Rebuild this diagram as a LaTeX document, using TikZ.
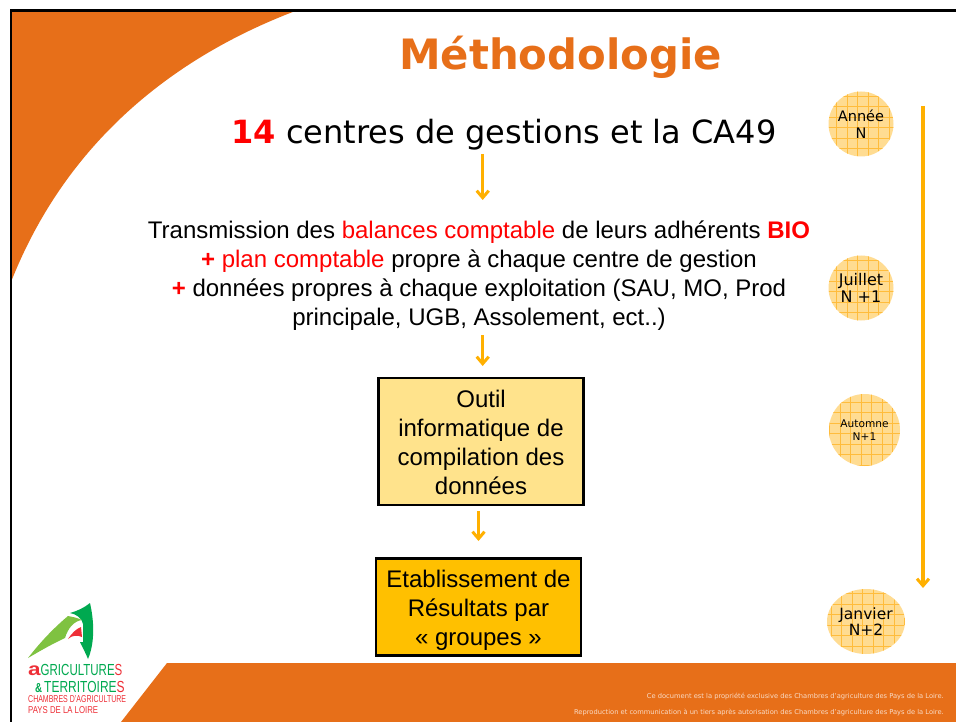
\documentclass[tikz,border=0pt]{standalone}
\usepackage{fontspec}
\setmainfont{Liberation Sans}
\newfontfamily\verd{DejaVu Sans}
\usetikzlibrary{arrows.meta,shapes.geometric}
\definecolor{orangeA}{HTML}{E76F19}
\definecolor{gold}{HTML}{FFB000}
\definecolor{disc}{HTML}{FFDC92}
\definecolor{gridc}{HTML}{FFBC3C}
\definecolor{boxA}{HTML}{FFE38C}
\definecolor{boxB}{HTML}{FFC000}
\definecolor{logoG}{HTML}{00A950}
\definecolor{logoL}{HTML}{7FC241}
\definecolor{logoR}{HTML}{EE2F37}
\tikzset{
  flow/.style={draw=gold,line width=3.4pt,-{Straight Barb[length=7pt,width=12pt,line width=3pt]}},
  stepbox/.style={draw=black,line width=2.8pt,align=center,font=\fontsize{24}{29}\selectfont,inner sep=0pt},
  body/.style={align=center,font=\fontsize{24}{29}\selectfont,inner sep=0pt},
  datedisc/.style 2 args={ellipse,fill=disc,minimum width=#1,minimum height=#2,inner sep=0pt,
    path picture={
      \foreach \k in {-5,...,5}{
        \draw[gridc,line width=0.8pt] ([xshift=\k*10.5pt-3.5pt]path picture bounding box.south) -- ([xshift=\k*10.5pt-3.5pt]path picture bounding box.north);
        \draw[gridc,line width=0.8pt] ([yshift=\k*10.5pt-3.5pt]path picture bounding box.west) -- ([yshift=\k*10.5pt-3.5pt]path picture bounding box.east);
      }}},
  datetxt/.style 2 args={align=center,inner sep=0pt,font=\verd\fontsize{#1}{#2}\selectfont},
  foot/.style={text=white!75!orangeA,anchor=east,inner sep=0pt,font=\verd\fontsize{6.7}{8}\selectfont},
  logotxt/.style={anchor=west,inner sep=0pt},
}
\begin{document}
\begin{tikzpicture}[x=1pt,y=-1pt]
\useasboundingbox (0,0) rectangle (956,722);
\fill[white] (0,0) rectangle (956,722);
% orange shapes
\fill[orangeA] (11,10) -- (298,10) .. controls (170,58) and (65,145) .. (11,282) -- cycle;
\fill[orangeA] (121,722) -- (167,663) -- (956,663) -- (956,722) -- cycle;
% frame
\draw[black,line width=2.4pt] (11,722) -- (11,10.5) -- (956,10.5);
% title
\node[inner sep=0pt,text=orangeA,font=\verd\bfseries\fontsize{41.8}{48}\selectfont] (title) at (560.5,57) {Méthodologie};
\node[inner sep=0pt,font=\verd\fontsize{32}{38}\selectfont] (src) at (504,135) {\textcolor{red}{\bfseries 14} centres de gestions et la CA49};
\node[body] (trans) at (479,275.5) {Transmission des \textcolor{red}{balances comptable} de leurs adhérents \textcolor{red}{\bfseries BIO}\\
\textcolor{red}{\bfseries +} \textcolor{red}{plan comptable} propre à chaque centre de gestion\\
\textcolor{red}{\bfseries +} données propres à chaque exploitation (SAU, MO, Prod\\
principale, UGB, Assolement, ect..)};
\node[stepbox,fill=boxA,minimum width=205pt,minimum height=127pt] (tool) at (481,441.5) {\rule{0pt}{18.5pt}Outil\\informatique de\\compilation des\\données};
\node[stepbox,fill=boxB,minimum width=205pt,minimum height=97pt] (res) at (478.5,607) {\rule{0pt}{23pt}Etablissement de\\Résultats par\\« groupes »};
% connectors
\coordinate (a1) at (482.7,154); \coordinate (a2) at (482.7,200);
\coordinate (b1) at (482.7,335); \coordinate (b2) at (482.7,366);
\coordinate (c1) at (478.5,511); \coordinate (c2) at (478.5,541);
\coordinate (t1) at (923,106); \coordinate (t2) at (923,588);
\draw[flow] (a1) -- (a2);
\draw[flow] (b1) -- (b2);
\draw[flow] (c1) -- (c2);
\draw[flow] (t1) -- (t2);
% date discs
\node[datedisc={65pt}{65pt}] (d1) at (861,124) {};
\node[datetxt={14.5}{17}] (d1t) at (d1) {Année\\N};
\node[datedisc={65pt}{65pt}] (d2) at (861,288) {};
\node[datetxt={16}{17}] (d2t) at (d2) {Juillet\\N +1};
\node[datedisc={71pt}{72pt}] (d3) at (864.5,430) {};
\node[datetxt={10.6}{13}] (d3t) at (d3) {Automne\\N+1};
\node[datedisc={78pt}{65pt}] (d4) at (866,621.5) {};
\node[datetxt={15.5}{16}] (d4t) at (d4) {Janvier\\N+2};
% footer
\node[foot] (f1) at (944,696.5) {Ce document est la propriété exclusive des Chambres d’agriculture des Pays de la Loire.};
\node[foot] (f2) at (944,712.5) {Reproduction et communication à un tiers après autorisation des Chambres d’agriculture des Pays de la Loire.};
% logo
\fill[logoL] (28,658) .. controls (42,640) and (55,627) .. (68,616) .. controls (73,617) and (78,618) .. (82,620) .. controls (74,621) and (68,628) .. (65,638) .. controls (52,644) and (40,651) .. (28,658) -- cycle;
\fill[logoG] (70,613) .. controls (77,611) and (84,608) .. (90,603) .. controls (95,625) and (94,645) .. (88,659) .. controls (86,654) and (83,648) .. (80,642) -- (83,642) -- (83,624) .. controls (82,618) and (76,614) .. (70,613) -- cycle;
\fill[logoR] (68,639) .. controls (72,633) and (76,629) .. (81,627) -- (82,637) .. controls (78,635) and (72,635) .. (68,639) -- cycle;
\node[logotxt,font=\fontsize{16}{17}\selectfont] (l1) at (28,670) {\textcolor{logoR}{\scalebox{1.25}[1]{\bfseries\fontsize{18}{18}\selectfont a}}\scalebox{0.72}[1]{\textcolor{logoG}{GRICULTURE}\textcolor{logoR}{S}}};
\node[logotxt,font=\fontsize{16}{17}\selectfont] (l2) at (35,686.5) {\scalebox{0.75}[1]{\textcolor{logoG}{\bfseries\fontsize{13}{13}\selectfont\&}\textcolor{logoG}{\,TERRITOIRE}\textcolor{logoR}{S}}};
\node[logotxt,text=logoR,font=\fontsize{10}{10}\selectfont] (l3) at (28,699.5) {\scalebox{0.7}[1]{CHAMBRES D'AGRICULTURE}};
\node[logotxt,text=logoR,font=\fontsize{10}{10}\selectfont] (l4) at (28,710.5) {\scalebox{0.78}[1]{PAYS DE LA LOIRE}};
\end{tikzpicture}
\end{document}
